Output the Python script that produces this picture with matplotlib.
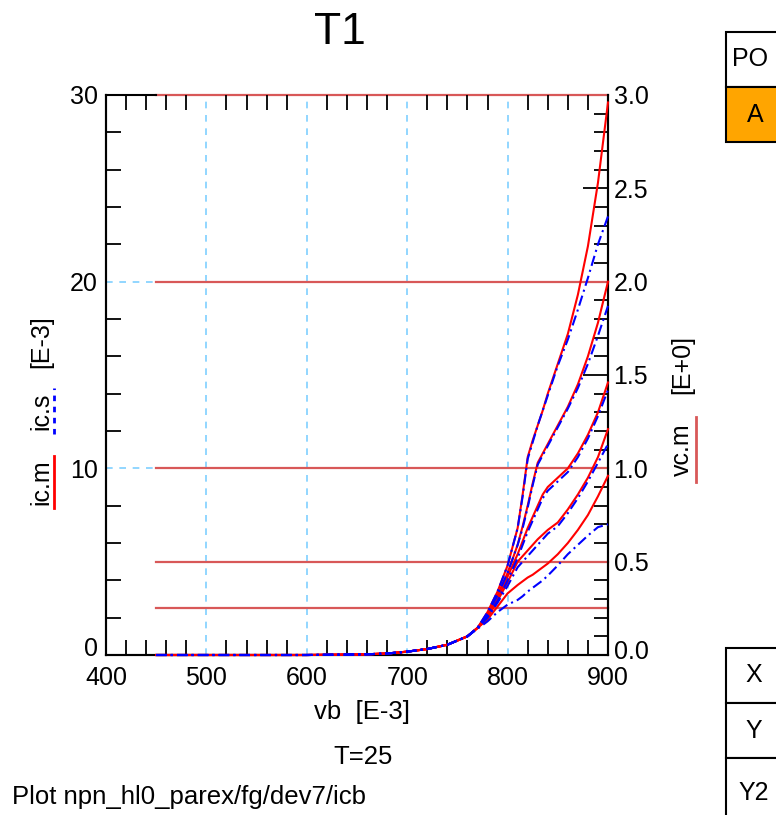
import matplotlib
matplotlib.use('Agg')
import matplotlib.pyplot as plt
from matplotlib.patches import Rectangle
from matplotlib.lines import Line2D
from matplotlib.ticker import MultipleLocator
from matplotlib.transforms import ScaledTranslation

plt.rcParams['font.family'] = ['Liberation Sans', 'DejaVu Sans']

# ---------------- data ----------------
vb = [450, 500, 550, 600, 640, 660, 680, 700, 720, 740, 760, 770,
      780, 790, 800, 810, 815, 820, 825, 830, 835, 840, 850, 860, 870, 880, 890, 900]

vc_m = [3.0, 2.0, 1.0, 0.5, 0.25]

ic_m_1 = [0, 0, 0, 0, 0.02, 0.04, 0.08, 0.18, 0.32, 0.55, 1.0, 1.45,
          2.3, 3.4, 4.8, 6.8, 8.6, 10.6, 11.5, 12.3, 13.1, 14.0, 15.6, 17.2, 19.3, 21.9, 25.3, 29.6]
ic_s_1 = [0, 0, 0, 0, 0.02, 0.04, 0.08, 0.18, 0.32, 0.55, 1.0, 1.45,
          2.3, 3.4, 4.8, 6.8, 8.5, 10.5, 11.4, 12.3, 13.1, 13.9, 15.5, 16.9, 18.5, 20.2, 22.0, 23.5]
ic_m_2 = [0, 0, 0, 0, 0.02, 0.04, 0.08, 0.18, 0.32, 0.55, 1.0, 1.45,
          2.2, 3.2, 4.4, 5.9, 6.9, 8.0, 9.2, 10.3, 10.8, 11.3, 12.3, 13.3, 14.5, 16.0, 17.8, 20.0]
ic_s_2 = [0, 0, 0, 0, 0.02, 0.04, 0.08, 0.18, 0.32, 0.55, 1.0, 1.45,
          2.2, 3.2, 4.4, 5.9, 6.8, 7.9, 9.1, 10.2, 10.7, 11.2, 12.2, 13.2, 14.3, 15.6, 17.1, 18.7]
ic_m_3 = [0, 0, 0, 0, 0.02, 0.04, 0.08, 0.18, 0.32, 0.55, 1.0, 1.45,
          2.1, 3.0, 4.2, 5.4, 6.1, 6.8, 7.4, 8.0, 8.6, 9.0, 9.5, 10.0, 10.8, 11.8, 13.0, 14.6]
ic_s_3 = [0, 0, 0, 0, 0.02, 0.04, 0.08, 0.18, 0.32, 0.55, 1.0, 1.45,
          2.1, 2.9, 4.0, 5.2, 5.9, 6.6, 7.2, 7.8, 8.4, 8.8, 9.3, 9.8, 10.6, 11.6, 12.8, 14.2]
ic_m_4 = [0, 0, 0, 0, 0.02, 0.04, 0.08, 0.18, 0.32, 0.55, 1.0, 1.45,
          2.0, 2.9, 3.9, 5.0, 5.3, 5.6, 5.9, 6.2, 6.45, 6.7, 7.1, 7.8, 8.6, 9.5, 10.6, 12.1]
ic_s_4 = [0, 0, 0, 0, 0.02, 0.04, 0.08, 0.18, 0.32, 0.55, 1.0, 1.45,
          2.0, 2.8, 3.7, 4.7, 5.0, 5.3, 5.6, 5.9, 6.2, 6.5, 6.9, 7.6, 8.4, 9.3, 10.3, 11.3]
ic_m_5 = [0, 0, 0, 0, 0.02, 0.04, 0.08, 0.18, 0.32, 0.55, 1.0, 1.45,
          1.9, 2.6, 3.3, 3.75, 3.95, 4.15, 4.3, 4.5, 4.7, 4.9, 5.4, 6.0, 6.7, 7.5, 8.5, 9.6]
ic_s_5 = [0, 0, 0, 0, 0.02, 0.04, 0.08, 0.18, 0.32, 0.55, 1.0, 1.4,
          1.8, 2.3, 2.7, 2.95, 3.15, 3.4, 3.6, 3.8, 4.0, 4.25, 4.8, 5.4, 5.9, 6.4, 6.85, 7.0]

ic_m = [ic_m_1, ic_m_2, ic_m_3, ic_m_4, ic_m_5]
ic_s = [ic_s_1, ic_s_2, ic_s_3, ic_s_4, ic_s_5]
vb_line = [450, 900]

x_ticks = [400, 500, 600, 700, 800, 900]
y_ticks = [0, 10, 20, 30]
y2_ticks = [0.0, 0.5, 1.0, 1.5, 2.0, 2.5, 3.0]

# ---------------- figure ----------------
W, H = 776, 815
fig = plt.figure(figsize=(W / 100, H / 100), dpi=100)

def fx(px):
    return px / W

def fy(py):
    return 1 - py / H

L, R, T, B = 106, 608, 95, 655
ax = fig.add_axes([fx(L), fy(B), fx(R - L), fy(T) - fy(B)])
ax2 = ax.twinx()

ax.set_xlim(400, 900)
ax.set_ylim(0, 30)
ax2.set_ylim(0, 3.0)

RED_H = '#d85858'
GRID = '#7fcfff'

# grid (drawn on the secondary axes, below the vc.m lines)
for xv in x_ticks[1:-1]:
    ax2.axvline(xv, color=GRID, lw=1.2, ls=(0, (4, 4)), zorder=1)
for yv in y2_ticks[2:-1:2]:
    ax2.axhline(yv, color=GRID, lw=1.2, ls=(0, (4, 4)), zorder=1)

# horizontal vc.m lines
for v in vc_m:
    ax2.plot(vb_line, [v, v], color=RED_H, lw=1.6, zorder=2, clip_on=False)

# ic curves
for m, s in zip(ic_m, ic_s):
    ax.plot(vb, m, color='#ff0000', lw=1.5, zorder=3, clip_on=False)
    ax.plot(vb, s, color='#0000ff', lw=1.5, ls=(0, (5, 2, 1, 2)), zorder=4, clip_on=False)

ax.set_zorder(ax2.get_zorder() + 1)
ax.patch.set_visible(False)

for a in (ax, ax2):
    for sp in a.spines.values():
        sp.set_linewidth(1.5)
        sp.set_color('black')
    a.spines['top'].set_visible(False)
# black part of the top frame (left of the vc.m line)
ax.plot([400, 450], [30, 30], color='black', lw=1.5, clip_on=False, zorder=5)

ax.set_xticks(x_ticks)
ax.set_yticks(y_ticks)
ax.xaxis.set_minor_locator(MultipleLocator(20))
ax.yaxis.set_minor_locator(MultipleLocator(2))
ax.tick_params(axis='both', which='major', direction='in', length=0,
               labelsize=18, pad=6, top=True, labeltop=False)
ax.tick_params(axis='both', which='minor', direction='in', length=11,
               width=1.3, top=True)
ax.tick_params(axis='y', which='both', right=False)
ax.tick_params(axis='x', which='major', pad=8)

ax2.set_yticks(y2_ticks)
ax2.yaxis.set_minor_locator(MultipleLocator(0.1))
ax2.tick_params(axis='y', which='major', direction='in', length=18, width=1.3,
                labelsize=18, pad=4)
ax2.tick_params(axis='y', which='minor', direction='in', length=10, width=1.3)
ax2.set_yticklabels([f'{v:.1f}' for v in y2_ticks])

# lift the two zero labels a little, as in the reference
t0 = ax.yaxis.get_major_ticks()[0].label1
t0.set_transform(t0.get_transform() + ScaledTranslation(0, 6 / 72, fig.dpi_scale_trans))
t1 = ax2.yaxis.get_major_ticks()[0].label2
t1.set_transform(t1.get_transform() + ScaledTranslation(0, 4 / 72, fig.dpi_scale_trans))

# ---------------- texts ----------------
fs = 18
fig.text(fx(340), fy(32), 'T1', fontsize=32, ha='center', va='center')
fig.text(fx(362), fy(712), 'vb  [E-3]', fontsize=18.5, ha='center', va='center')
fig.text(fx(363), fy(757), 'T=25', fontsize=18.5, ha='center', va='center')
fig.text(fx(12), fy(797), 'Plot npn_hl0_parex/fg/dev7/icb', fontsize=18.5,
         ha='left', va='center')

# left y label pieces
fig.text(fx(41), fy(482), 'ic.m', fontsize=fs, rotation=90, ha='center', va='center')
fig.text(fx(41), fy(411), 'ic.s', fontsize=fs, rotation=90, ha='center', va='center')
fig.text(fx(41), fy(342), '[E-3]', fontsize=fs, rotation=90, ha='center', va='center')
fig.add_artist(Line2D([fx(54), fx(54)], [fy(508), fy(456)], color='#ff0000', lw=2))
fig.add_artist(Line2D([fx(54), fx(54)], [fy(434), fy(388)], color='#0000ff', lw=2,
                      ls=(0, (2, 2))))

# right y label pieces
fig.text(fx(682), fy(450), 'vc.m', fontsize=fs, rotation=90, ha='center', va='center')
fig.text(fx(682), fy(364), '[E+0]', fontsize=fs, rotation=90, ha='center', va='center')
fig.add_artist(Line2D([fx(696), fx(696)], [fy(482), fy(417)], color=RED_H, lw=2))

# right side tables
def cell(x0, y0, w, h, face, label, tx, ha='center'):
    fig.add_artist(Rectangle((fx(x0), fy(y0 + h)), fx(w), fy(y0) - fy(y0 + h),
                             facecolor=face, edgecolor='black', lw=1.5,
                             transform=fig.transFigure))
    fig.text(fx(tx), fy(y0 + h / 2), label, fontsize=fs, ha=ha, va='center')

cell(726, 32, 80, 55, 'white', 'PO', 732, ha='left')
cell(726, 87, 80, 55, '#ffa500', 'A', 755)
cell(726, 648, 80, 55, 'white', 'X', 754)
cell(726, 703, 80, 55, 'white', 'Y', 754)
cell(726, 758, 80, 70, 'white', 'Y2', 754)

fig.savefig('out.png', dpi=100)
